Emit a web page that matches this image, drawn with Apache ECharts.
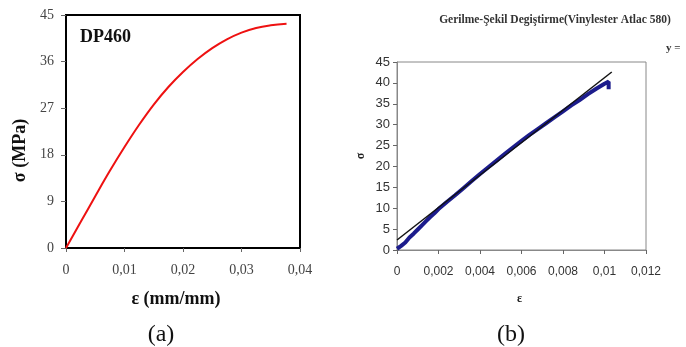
<!DOCTYPE html>
<html>
<head>
<meta charset="utf-8">
<script src="https://cdn.jsdelivr.net/npm/echarts@6/dist/echarts.min.js"></script>
<style>
html,body{margin:0;padding:0;background:#fff;}
#c{width:686px;height:347px;}
</style>
</head>
<body>
<div id="c"></div>
<script>
// Panel (a): DP460 stress-strain curve
const strainA = [0, 0.0025, 0.005, 0.0075, 0.01, 0.0125, 0.015, 0.0175, 0.02, 0.0225, 0.025, 0.0275, 0.03, 0.0325, 0.035, 0.0377];
const stressA = [0, 5.0, 10.0, 14.9, 19.5, 23.8, 27.7, 31.1, 34.0, 36.5, 38.6, 40.3, 41.6, 42.5, 43.0, 43.3];
const xTicksA = [0, 0.01, 0.02, 0.03, 0.04];
const yTicksA = [0, 9, 18, 27, 36, 45];

// Panel (b): Vinylester Atlac 580 measured data + linear trend
const strainB = [0, 0.0002, 0.0004, 0.0006, 0.0008, 0.001, 0.0012, 0.0014, 0.0016, 0.0018, 0.002, 0.0024, 0.0028, 0.0032, 0.0036, 0.004, 0.0044, 0.0048, 0.0052, 0.0056, 0.006, 0.0064, 0.0068, 0.0072, 0.0076, 0.008, 0.0084, 0.0088, 0.0092, 0.0096, 0.01, 0.0102, 0.0102];
const stressB = [0.3, 1.0, 1.8, 3.0, 3.9, 4.9, 5.9, 6.9, 7.9, 8.8, 9.8, 11.5, 13.1, 14.8, 16.5, 18.2, 19.8, 21.4, 23.0, 24.6, 26.1, 27.6, 29.0, 30.4, 31.8, 33.2, 34.6, 35.9, 37.3, 38.6, 39.8, 40.3, 38.5];
const trendStrain = [0, 0.01035];
const trendStress = [2.4, 42.6];
const xTicksB = [0, 0.002, 0.004, 0.006, 0.008, 0.01, 0.012];
const yTicksB = [0, 5, 10, 15, 20, 25, 30, 35, 40, 45];

const comma = v => String(+v.toFixed(4)).replace('.', ',');
const serif = '"Liberation Serif", "Times New Roman", serif';
const sans = '"Liberation Sans", Arial, sans-serif';

const chart = echarts.init(document.getElementById('c'));
chart.setOption({
  animation: false,
  backgroundColor: '#fff',
  title: [
    {text: 'DP460', left: 75, top: 23, textStyle: {fontFamily: serif, fontSize: 18, fontWeight: 'bold', color: '#111'}},
    {text: '(a)', left: 156, top: 318, textAlign: 'center', textStyle: {fontFamily: serif, fontSize: 24, fontWeight: 'normal', color: '#111'}},
    {text: '(b)', left: 506, top: 318, textAlign: 'center', textStyle: {fontFamily: serif, fontSize: 24, fontWeight: 'normal', color: '#111'}},
    {text: 'Gerilme-Şekil Degiştirme(Vinylester Atlac 580)', left: 550, top: 9, textAlign: 'center', textStyle: {fontFamily: serif, fontSize: 11.5, fontWeight: 'bold', color: '#333'}},
    {text: 'y =', left: 661, top: 38, textStyle: {fontFamily: serif, fontSize: 11, fontWeight: 'bold', color: '#333'}}
  ],
  grid: [
    {left: 66, top: 15, width: 234, height: 233, show: true, borderColor: '#000', borderWidth: 2, backgroundColor: '#fff'},
    {left: 397, top: 62, width: 249, height: 188, show: true, borderColor: '#888', borderWidth: 1, backgroundColor: '#fff'}
  ],
  xAxis: [
    {
      gridIndex: 0, type: 'value', min: xTicksA[0], max: xTicksA[xTicksA.length - 1], interval: 0.01,
      name: 'ε (mm/mm)', nameLocation: 'middle', nameGap: 42,
      nameTextStyle: {fontFamily: serif, fontSize: 18, fontWeight: 'bold', color: '#111', padding: [0, 14, 0, 0]},
      axisLine: {show: true, lineStyle: {color: '#000', width: 2}},
      axisTick: {show: true, length: 4, lineStyle: {color: '#666'}},
      axisLabel: {margin: 15, fontFamily: serif, fontSize: 14, color: '#444', formatter: comma},
      splitLine: {show: false}
    },
    {
      gridIndex: 1, type: 'value', min: xTicksB[0], max: xTicksB[xTicksB.length - 1], interval: 0.002,
      name: 'ε', nameLocation: 'middle', nameGap: 43,
      nameTextStyle: {fontFamily: serif, fontSize: 12, fontWeight: 'bold', color: '#222', padding: [0, 4, 0, 0]},
      axisLine: {show: true, lineStyle: {color: '#888', width: 1}},
      axisTick: {show: true, length: 4, lineStyle: {color: '#666'}},
      axisLabel: {margin: 16, fontFamily: sans, fontSize: 12, color: '#333', formatter: comma},
      splitLine: {show: false}
    }
  ],
  yAxis: [
    {
      gridIndex: 0, type: 'value', min: yTicksA[0], max: yTicksA[yTicksA.length - 1], interval: 9,
      name: 'σ (MPa)', nameLocation: 'middle', nameGap: 37, nameRotate: 90,
      nameTextStyle: {fontFamily: serif, fontSize: 18, fontWeight: 'bold', color: '#111', padding: [0, 38, 0, 0]},
      axisLine: {show: true, lineStyle: {color: '#000', width: 2}},
      axisTick: {show: true, length: 5, lineStyle: {color: '#666'}},
      axisLabel: {margin: 12, fontFamily: serif, fontSize: 14, color: '#444'},
      splitLine: {show: false}
    },
    {
      gridIndex: 1, type: 'value', min: yTicksB[0], max: yTicksB[yTicksB.length - 1], interval: 5,
      name: 'σ', nameLocation: 'middle', nameGap: 30, nameRotate: 90,
      nameTextStyle: {fontFamily: serif, fontSize: 12, fontWeight: 'bold', color: '#222'},
      axisLine: {show: true, lineStyle: {color: '#888', width: 1}},
      axisTick: {show: true, length: 4, lineStyle: {color: '#666'}},
      axisLabel: {margin: 7, fontFamily: sans, fontSize: 13, color: '#333'},
      splitLine: {show: false}
    }
  ],
  series: [
    {
      type: 'line', xAxisIndex: 0, yAxisIndex: 0, smooth: 0.4, symbol: 'none',
      lineStyle: {color: '#ee1111', width: 2},
      data: strainA.map((x, i) => [x, stressA[i]])
    },
    {
      type: 'line', xAxisIndex: 1, yAxisIndex: 1, symbol: 'none',
      lineStyle: {color: '#1c1c8c', width: 4},
      data: strainB.map((x, i) => [x, stressB[i]])
    },
    {
      type: 'line', xAxisIndex: 1, yAxisIndex: 1, symbol: 'none',
      lineStyle: {color: '#111', width: 1.5},
      data: trendStrain.map((x, i) => [x, trendStress[i]])
    }
  ]
});
</script>
</body>
</html>
